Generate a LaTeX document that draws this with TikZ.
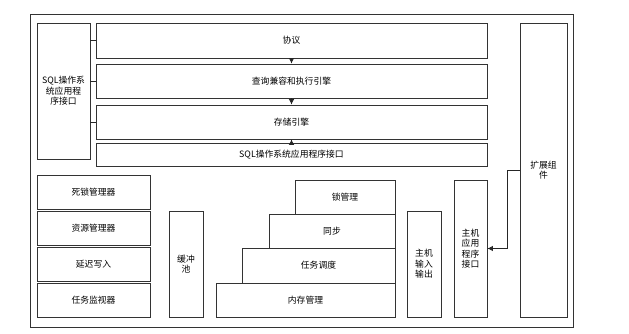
\documentclass[tikz,border=0pt]{standalone}
\usepackage{fontspec}
\newfontfamily\cjk{Noto Sans CJK SC}
\usetikzlibrary{arrows.meta}

\begin{document}
\begin{tikzpicture}[x=1pt, y=-1pt, >={Latex[length=5.5pt,width=5.5pt]},
    box/.style={draw=black!80, line width=0.8pt, fill=white, inner sep=1pt,
      align=center, font=\cjk\fontsize{8.8}{10.5}\selectfont},
    link/.style={draw=black!85, line width=0.8pt}]
  \useasboundingbox (0,0) rectangle (629,334);
  %--- Outer frame
  \draw[black!80, line width=0.8pt] (30,14) rectangle (573,327);
  %--- Left interface column
  \node[box, minimum width=53, minimum height=136] (sqlleft) at (63.5,91)
    {SQL操作系\\统应用程\\序接口};
  %--- Top layers
  \node[box, minimum width=391, minimum height=35] (xieyi)  at (291.5,40.5) {协议};
  \node[box, minimum width=391, minimum height=34] (chaxun) at (291.5,81)   {查询兼容和执行引擎};
  \node[box, minimum width=391, minimum height=34] (cunchu) at (291.5,122)  {存储引擎};
  \node[box, minimum width=391, minimum height=23] (sqlapi) at (291.5,154.5) {SQL操作系统应用程序接口};
  %--- Extension column
  \node[box, minimum width=47, minimum height=294] (kuozhan) at (543.5,170) {扩展组\\件};
  %--- Left stack
  \node[box, minimum width=113, minimum height=34] (sisuo)    at (93.5,192) {死锁管理器};
  \node[box, minimum width=113, minimum height=34] (ziyuan)   at (93.5,228) {资源管理器};
  \node[box, minimum width=113, minimum height=34] (yanchi)   at (93.5,264) {延迟写入};
  \node[box, minimum width=113, minimum height=34] (jiankong) at (93.5,300) {任务监视器};
  \node[box, minimum width=34, minimum height=106] (huanchong) at (186,264) {缓冲\\池};
  %--- Staircase
  \node[box, minimum width=179, minimum height=34] (neicun) at (305.5,300)   {内存管理};
  \node[box, minimum width=153, minimum height=35] (diaodu) at (318.5,265.5) {任务调度};
  \node[box, minimum width=126, minimum height=34] (tongbu) at (332,231)     {同步};
  \node[box, minimum width=100, minimum height=34] (suo)    at (345,197)     {锁管理};
  %--- Host columns
  \node[box, minimum width=34, minimum height=106] (zhujiio)  at (424,264)   {主机\\输入\\输出};
  \node[box, minimum width=33, minimum height=137] (zhujiapi) at (470.5,248.5) {主机\\应用\\程序\\接口};
  %--- Connectors
  \draw[link, ->] (xieyi.south) -- (chaxun.north);
  \draw[link, ->] (chaxun.south) -- (cunchu.north);
  \draw[link, ->] (sqlapi.north) -- (cunchu.south);
  \draw[link] (sqlleft.east |- xieyi.west) -- (xieyi.west);
  \draw[link] (sqlleft.east |- chaxun.west) -- (chaxun.west);
  \draw[link] (sqlleft.east |- cunchu.west) -- (cunchu.west);
  \draw[link, ->] (kuozhan.west) -- ++(-12,0) |- (zhujiapi.east);
\end{tikzpicture}
\end{document}
